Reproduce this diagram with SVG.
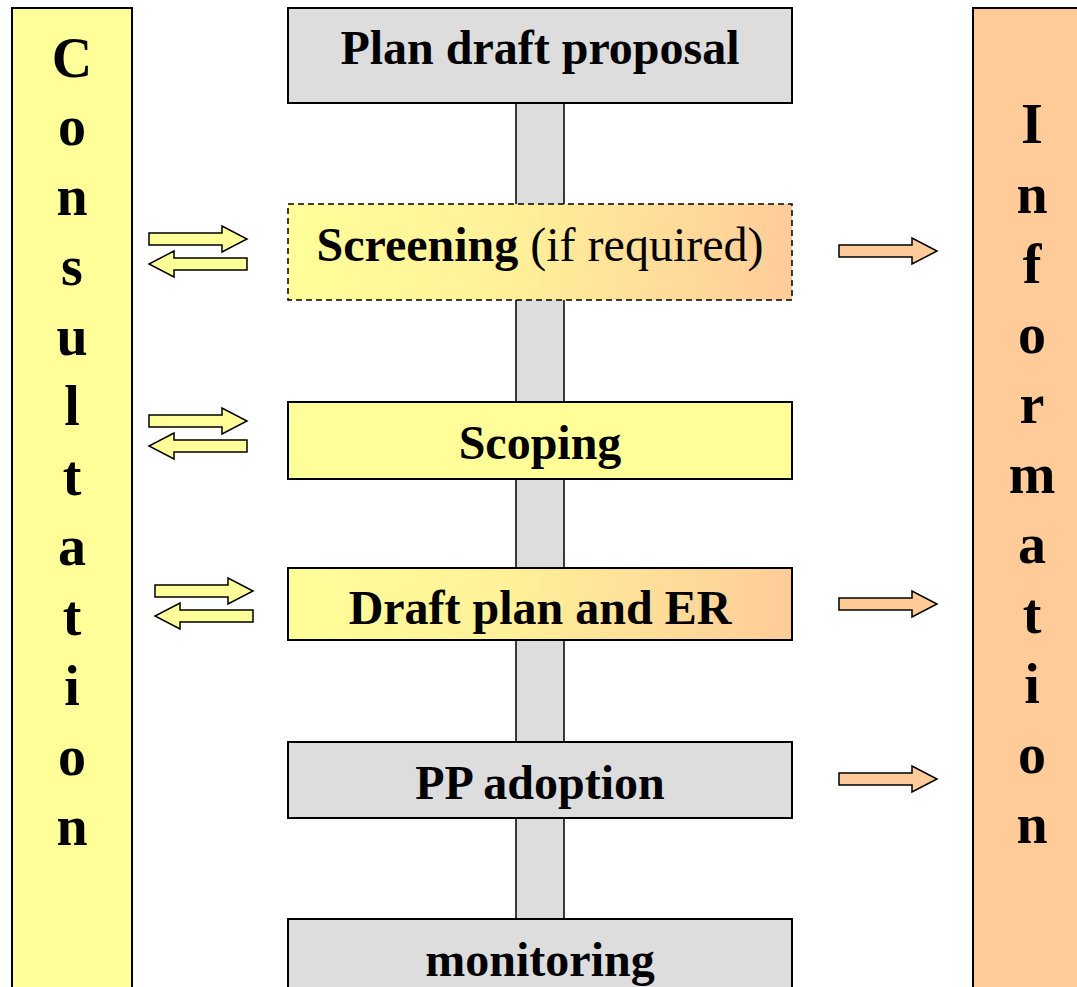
<svg xmlns="http://www.w3.org/2000/svg" width="1077" height="987" viewBox="0 0 1077 987">
<style>
.box{stroke:#000;stroke-width:2}
.t{font-family:"Liberation Serif",serif;font-weight:bold;font-size:48px;text-anchor:middle;fill:#000}
.v{font-family:"Liberation Serif",serif;font-weight:bold;font-size:56px;text-anchor:middle;fill:#000}
.ya{fill:#FFFF99;stroke:#000;stroke-width:1.5}
.oa{fill:#FFCC99;stroke:#000;stroke-width:1.5}
</style>
<defs>
<linearGradient id="g" x1="0" y1="0" x2="1" y2="0">
<stop offset="0" stop-color="#FFFF99"/>
<stop offset="0.45" stop-color="#FFF099"/>
<stop offset="1" stop-color="#FFCC99"/>
</linearGradient>
<path id="ra" d="M0,-6 L73,-6 L73,-13 L98,0 L73,13 L73,6 L0,6 Z"/>
<path id="la" d="M98,-6 L25,-6 L25,-13 L0,0 L25,13 L25,6 L98,6 Z"/>
</defs>
<g id="consultation">
<rect class="box" x="12" y="8" width="120" height="990" fill="#FFFF99"/>
<text class="v" x="72" y="77">C</text>
<text class="v" x="72" y="145">o</text>
<text class="v" x="72" y="215">n</text>
<text class="v" x="72" y="285">s</text>
<text class="v" x="72" y="355">u</text>
<text class="v" x="72" y="425">l</text>
<text class="v" x="72" y="495">t</text>
<text class="v" x="72" y="565">a</text>
<text class="v" x="72" y="635">t</text>
<text class="v" x="72" y="705">i</text>
<text class="v" x="72" y="775">o</text>
<text class="v" x="72" y="845">n</text>
</g>
<g id="information">
<rect class="box" x="973" y="8" width="120" height="990" fill="#FFCC99"/>
<text class="v" x="1032" y="143">I</text>
<text class="v" x="1032" y="213">n</text>
<text class="v" x="1032" y="283">f</text>
<text class="v" x="1032" y="353">o</text>
<text class="v" x="1032" y="423">r</text>
<text class="v" x="1032" y="493">m</text>
<text class="v" x="1032" y="563">a</text>
<text class="v" x="1032" y="633">t</text>
<text class="v" x="1032" y="703">i</text>
<text class="v" x="1032" y="773">o</text>
<text class="v" x="1032" y="843">n</text>
</g>
<g id="connectors">
<rect x="516" y="103" width="48" height="816" fill="#DDDDDD" stroke="#000" stroke-width="1.5"/>
<use href="#ra" class="ya" x="149" y="239"/>
<use href="#la" class="ya" x="149" y="264"/>
<use href="#ra" class="ya" x="149" y="421"/>
<use href="#la" class="ya" x="149" y="446"/>
<use href="#ra" class="ya" x="155" y="591"/>
<use href="#la" class="ya" x="155" y="616"/>
<use href="#ra" class="oa" x="839" y="251"/>
<use href="#ra" class="oa" x="839" y="604"/>
<use href="#ra" class="oa" x="839" y="779"/>
</g>
<g id="plan-draft">
<rect class="box" x="288" y="8" width="504" height="95" fill="#DDDDDD"/>
<text class="t" x="540" y="64">Plan draft proposal</text>
</g>
<g id="screening">
<rect x="288" y="204" width="504" height="96" fill="url(#g)" stroke="#000" stroke-width="1.5" stroke-dasharray="6,4"/>
<text class="t" x="540" y="261">Screening<tspan font-weight="normal"> (if required)</tspan></text>
</g>
<g id="scoping">
<rect class="box" x="288" y="402" width="504" height="77" fill="#FFFF99"/>
<text class="t" x="540" y="459">Scoping</text>
</g>
<g id="draft-plan">
<rect class="box" x="288" y="568" width="504" height="72" fill="url(#g)"/>
<text class="t" x="540" y="624">Draft plan and ER</text>
</g>
<g id="pp-adoption">
<rect class="box" x="288" y="742" width="504" height="76" fill="#DDDDDD"/>
<text class="t" x="540" y="799">PP adoption</text>
</g>
<g id="monitoring">
<rect class="box" x="288" y="919" width="504" height="100" fill="#DDDDDD"/>
<text class="t" x="540" y="976">monitoring</text>
</g>
</svg>
